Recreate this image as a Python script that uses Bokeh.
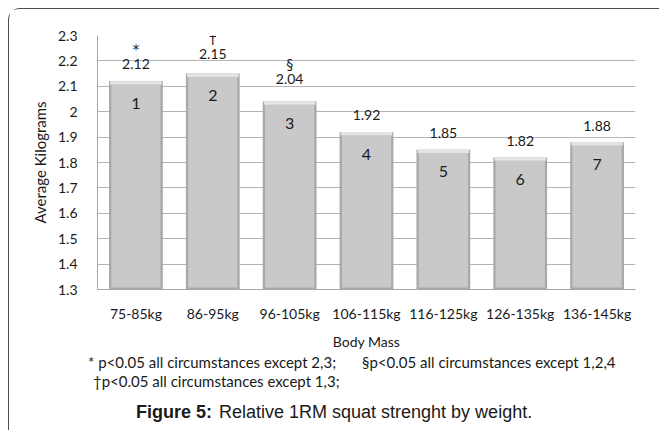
from bokeh.plotting import figure
from bokeh.layouts import column
from bokeh.models import ColumnDataSource, FactorRange, Range1d, FixedTicker, LabelSet
from bokeh.core.properties import value
from bokeh.embed import file_html
from bokeh.resources import INLINE

# ---- data ----
categories = ["75-85kg", "86-95kg", "96-105kg", "106-115kg", "116-125kg", "126-135kg", "136-145kg"]
values = [2.12, 2.15, 2.04, 1.92, 1.85, 1.82, 1.88]
bar_numbers = ["1", "2", "3", "4", "5", "6", "7"]
markers = ["*", "\u2020", "\u00a7", "", "", "", ""]
y_ticks = [1.3, 1.4, 1.5, 1.6, 1.7, 1.8, 1.9, 2.0, 2.1, 2.2, 2.3]
y_tick_labels = ["1.3", "1.4", "1.5", "1.6", "1.7", "1.8", "1.9", "2", "2.1", "2.2", "2.3"]
y_title = "Average Kilograms"
x_title = "Body Mass"
note_star = "* p<0.05 all circumstances except 2,3;"
note_dagger = "\u2020p<0.05 all circumstances except  1,3;"
note_section = "\u00a7p<0.05 all circumstances except 1,2,4"
caption_bold = "Figure 5:"
caption_rest = "Relative 1RM squat strenght by weight."

# ---- styles ----
label_lift = [17, 20, 23, 17, 17, 16, 16]   # px above bar top for the value labels
FONT = "Lato"
CAP_FONT = "Liberation Sans"
TXT = "#1a1a1a"
W = 650

base = y_ticks[0]
src = ColumnDataSource(dict(
    cat=categories,
    val=values,
    lbl=["%.2f" % v for v in values],
    num=bar_numbers,
    mark=markers,
    lift=label_lift,
    mlift=[l + 15 for l in label_lift],
    body_top=[v - 0.012 for v in values],
    hi_bottom=[v - 0.013 for v in values],
))

p = figure(width=W, height=343, x_range=FactorRange(*categories, range_padding=0),
           y_range=Range1d(y_ticks[0], y_ticks[-1]),
           output_backend="svg", toolbar_location=None,
           min_border_left=88, min_border_right=W - 88 - 538, min_border_top=26, min_border_bottom=62)
p.outline_line_color = None

# bars with a simple bevel look
p.vbar(x="cat", top="val", bottom=base, width=0.7, source=src,
       fill_color="#a9a9a9", line_color=None)
p.vbar(x="cat", top="body_top", bottom=base + 0.008, width=0.64, source=src,
       fill_color="#c9c9c9", line_color=None)
p.vbar(x="cat", top="val", bottom="hi_bottom", width=0.67, source=src,
       fill_color="#e4e4e4", line_color=None)

# axes
p.yaxis.ticker = FixedTicker(ticks=y_ticks)
p.yaxis.major_label_overrides = {t: s for t, s in zip(y_ticks, y_tick_labels)}
p.yaxis.major_tick_out = 0
p.yaxis.major_tick_in = 0
p.yaxis.minor_tick_out = 0
p.yaxis.minor_tick_in = 0
p.yaxis.axis_line_color = "#a6a6a6"
p.yaxis.major_label_standoff = 20
p.yaxis.major_label_text_font = FONT
p.yaxis.major_label_text_font_size = "14px"
p.yaxis.major_label_text_color = TXT
p.yaxis.axis_label = y_title
p.yaxis.axis_label_text_font = FONT
p.yaxis.axis_label_text_font_style = "normal"
p.yaxis.axis_label_text_font_size = "15px"
p.yaxis.axis_label_text_color = TXT
p.yaxis.axis_label_standoff = 6

p.xaxis.major_tick_out = 0
p.xaxis.major_tick_in = 0
p.xaxis.axis_line_color = "#a6a6a6"
p.xaxis.major_label_standoff = 15
p.xaxis.major_label_text_font = FONT
p.xaxis.major_label_text_font_size = "14px"
p.xaxis.major_label_text_color = TXT
p.xaxis.axis_label = x_title
p.xaxis.axis_label_text_font = FONT
p.xaxis.axis_label_text_font_style = "normal"
p.xaxis.axis_label_text_font_size = "14px"
p.xaxis.axis_label_text_color = TXT
p.xaxis.axis_label_standoff = 8

p.xgrid.grid_line_color = None
p.ygrid.ticker = FixedTicker(ticks=y_ticks)
p.ygrid.grid_line_color = "#b3b3b3"

# labels on the bars
p.add_layout(LabelSet(x="cat", y="val", text="lbl", source=src, y_offset="lift",
                      text_align="center", text_baseline="middle",
                      text_font=value(FONT), text_font_size="14px", text_color=TXT))
p.add_layout(LabelSet(x="cat", y="val", text="mark", source=src, y_offset="mlift",
                      text_align="center", text_baseline="middle",
                      text_font=value("DejaVu Sans"), text_font_size="14px", text_color=TXT))
p.add_layout(LabelSet(x="cat", y="val", text="num", source=src, y_offset=-22,
                      text_align="center", text_baseline="middle",
                      text_font=value(FONT), text_font_size="16px", text_color=TXT))

# ---- notes / caption panel below the chart ----
NH = 78
q = figure(width=W, height=NH, x_range=Range1d(0, W), y_range=Range1d(NH, 0),
           x_axis_type=None, y_axis_type=None, output_backend="svg",
           toolbar_location=None, min_border=0)
q.outline_line_color = None
q.grid.visible = False
if "frame_align" in q.properties():
    q.frame_align = False

def note(txt, x, y, size, style="normal", font=FONT):
    q.text(x=[x], y=[y], text=[txt], text_font=value(font), text_font_size=value(size),
           text_font_style=style, text_align="left", text_baseline="middle", text_color=TXT)

note(note_star, 78.5, 9.5, "15px")
note(note_section, 352.5, 9.5, "15px")
note(note_dagger, 83.5, 28.5, "15px")
note(caption_bold, 126.5, 59.5, "18px", "bold", CAP_FONT)
note(caption_rest, 209.5, 59.5, "18px", "normal", CAP_FONT)

layout = column(p, column(q, spacing=0), spacing=0,
                styles={"margin-left": "8px", "margin-top": "8px",
                        "border-left": "1.5px solid #4d4d4d",
                        "border-top": "1.5px solid #4d4d4d",
                        "border-top-left-radius": "12px"})

open("out.html", "w").write(file_html(layout, INLINE))
